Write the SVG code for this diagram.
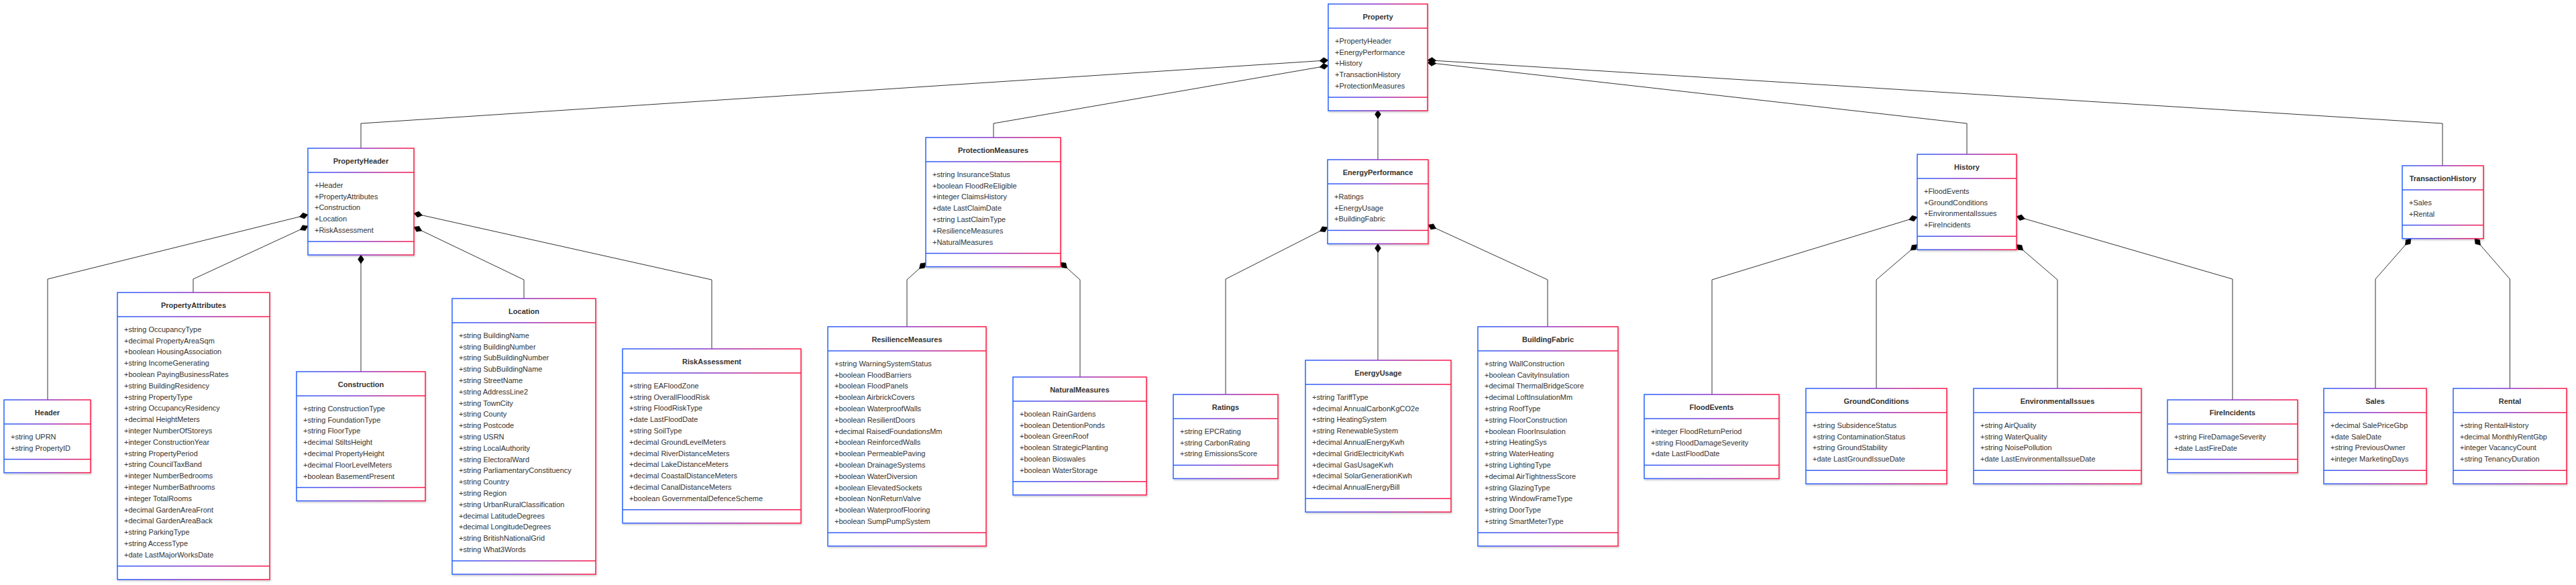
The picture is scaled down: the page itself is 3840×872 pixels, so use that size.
<svg xmlns="http://www.w3.org/2000/svg" width="3840" height="872" viewBox="0 0 3840 872">
<style>
.box{fill:#fff;stroke:url(#g);stroke-width:1.5;filter:url(#sh)}
.sep{fill:url(#g)}
.t{font-family:"Liberation Sans",Arial,sans-serif;font-size:11px;font-weight:bold;fill:#333;text-anchor:middle}
.a{font-family:"Liberation Sans",Arial,sans-serif;font-size:11px;fill:#333}
.c path{fill:none;stroke:#333;stroke-width:1}
</style>
<defs>
<linearGradient id="g" x1="0" y1="0" x2="1" y2="0">
<stop offset="0" stop-color="#2962ff"/>
<stop offset="0.5" stop-color="#8e35c8"/>
<stop offset="1" stop-color="#ff1744"/>
</linearGradient>
<filter id="sh" x="-10%" y="-10%" width="120%" height="120%">
<feDropShadow dx="1" dy="2" stdDeviation="1.2" flood-color="#000" flood-opacity="0.18"/>
</filter>
<marker id="dia" viewBox="0 -5 14 10" refX="13" refY="0" markerWidth="14" markerHeight="10" markerUnits="userSpaceOnUse" orient="auto" overflow="visible">
<path d="M0,0 L6.5,-4.5 L13,0 L6.5,4.5 Z" fill="#000" stroke="#000" stroke-width="0.5"/>
</marker>
</defs>
<rect width="3840" height="872" fill="#fff"/>
<g id="connectors" class="c">
<path marker-end="url(#dia)" d="M538,221 L538,184 L1980,89.8"/>
<path marker-end="url(#dia)" d="M1481,205 L1481,184 L1980,97.8"/>
<path marker-end="url(#dia)" d="M2054,238 L2054,164"/>
<path marker-end="url(#dia)" d="M2932,230 L2932,184 L2128,93.3"/>
<path marker-end="url(#dia)" d="M3641,247 L3641,184 L2128,89.6"/>
<path marker-end="url(#dia)" d="M71,596 L71,416 L459,320"/>
<path marker-end="url(#dia)" d="M288,436 L288,416 L459,337"/>
<path marker-end="url(#dia)" d="M538,554 L538,380"/>
<path marker-end="url(#dia)" d="M781,445 L781,417 L617,338.4"/>
<path marker-end="url(#dia)" d="M1061,520 L1061,417 L617,318.1"/>
<path marker-end="url(#dia)" d="M1352,487 L1352,417 L1380,391.7"/>
<path marker-end="url(#dia)" d="M1610,562 L1610,417 L1581,391.1"/>
<path marker-end="url(#dia)" d="M1827,588 L1827,416 L1979,338.8"/>
<path marker-end="url(#dia)" d="M2054,537 L2054,363.4"/>
<path marker-end="url(#dia)" d="M2307,487 L2307,417 L2129,335.2"/>
<path marker-end="url(#dia)" d="M2552,588 L2552,417 L2858,323.6"/>
<path marker-end="url(#dia)" d="M2797,579 L2797,417 L2858,364.6"/>
<path marker-end="url(#dia)" d="M3067,579 L3067,417 L3006,364.6"/>
<path marker-end="url(#dia)" d="M3328,596 L3328,416 L3006,322.5"/>
<path marker-end="url(#dia)" d="M3541,579 L3541,416 L3594,355.6"/>
<path marker-end="url(#dia)" d="M3741.5,579 L3741.5,416 L3689,355.6"/>
</g>

<g id="Property" transform="translate(1980,6)">
<rect class="box" width="148" height="159"/>
<rect class="sep" y="35.25" width="148" height="1.5"/>
<rect class="sep" y="138.25" width="148" height="1.5"/>
<text class="t" x="74" y="22.5">Property</text>
<text class="a"><tspan x="10" y="58.8">+PropertyHeader</tspan><tspan x="10" dy="16.8">+EnergyPerformance</tspan><tspan x="10" dy="16.8">+History</tspan><tspan x="10" dy="16.8">+TransactionHistory</tspan><tspan x="10" dy="16.8">+ProtectionMeasures</tspan></text>
</g>

<g id="PropertyHeader" transform="translate(459,221)">
<rect class="box" width="158" height="159"/>
<rect class="sep" y="35.25" width="158" height="1.5"/>
<rect class="sep" y="138.25" width="158" height="1.5"/>
<text class="t" x="79" y="22.5">PropertyHeader</text>
<text class="a"><tspan x="10" y="58.8">+Header</tspan><tspan x="10" dy="16.8">+PropertyAttributes</tspan><tspan x="10" dy="16.8">+Construction</tspan><tspan x="10" dy="16.8">+Location</tspan><tspan x="10" dy="16.8">+RiskAssessment</tspan></text>
</g>

<g id="ProtectionMeasures" transform="translate(1380,205)">
<rect class="box" width="201" height="192.6"/>
<rect class="sep" y="35.25" width="201" height="1.5"/>
<rect class="sep" y="171.85" width="201" height="1.5"/>
<text class="t" x="100.5" y="22.5">ProtectionMeasures</text>
<text class="a"><tspan x="10" y="58.8">+string InsuranceStatus</tspan><tspan x="10" dy="16.8">+boolean FloodReEligible</tspan><tspan x="10" dy="16.8">+integer ClaimsHistory</tspan><tspan x="10" dy="16.8">+date LastClaimDate</tspan><tspan x="10" dy="16.8">+string LastClaimType</tspan><tspan x="10" dy="16.8">+ResilienceMeasures</tspan><tspan x="10" dy="16.8">+NaturalMeasures</tspan></text>
</g>

<g id="EnergyPerformance" transform="translate(1979,238)">
<rect class="box" width="150" height="125.4"/>
<rect class="sep" y="35.25" width="150" height="1.5"/>
<rect class="sep" y="104.65" width="150" height="1.5"/>
<text class="t" x="75" y="22.5">EnergyPerformance</text>
<text class="a"><tspan x="10" y="58.8">+Ratings</tspan><tspan x="10" dy="16.8">+EnergyUsage</tspan><tspan x="10" dy="16.8">+BuildingFabric</tspan></text>
</g>

<g id="History" transform="translate(2858,230)">
<rect class="box" width="148" height="142.2"/>
<rect class="sep" y="35.25" width="148" height="1.5"/>
<rect class="sep" y="121.45" width="148" height="1.5"/>
<text class="t" x="74" y="22.5">History</text>
<text class="a"><tspan x="10" y="58.8">+FloodEvents</tspan><tspan x="10" dy="16.8">+GroundConditions</tspan><tspan x="10" dy="16.8">+EnvironmentalIssues</tspan><tspan x="10" dy="16.8">+FireIncidents</tspan></text>
</g>

<g id="TransactionHistory" transform="translate(3581,247)">
<rect class="box" width="121" height="108.6"/>
<rect class="sep" y="35.25" width="121" height="1.5"/>
<rect class="sep" y="87.85" width="121" height="1.5"/>
<text class="t" x="60.5" y="22.5">TransactionHistory</text>
<text class="a"><tspan x="10" y="58.8">+Sales</tspan><tspan x="10" dy="16.8">+Rental</tspan></text>
</g>

<g id="Header" transform="translate(6,596)">
<rect class="box" width="129" height="108.6"/>
<rect class="sep" y="35.25" width="129" height="1.5"/>
<rect class="sep" y="87.85" width="129" height="1.5"/>
<text class="t" x="64.5" y="22.5">Header</text>
<text class="a"><tspan x="10" y="58.8">+string UPRN</tspan><tspan x="10" dy="16.8">+string PropertyID</tspan></text>
</g>

<g id="PropertyAttributes" transform="translate(175,436)">
<rect class="box" width="227" height="427.8"/>
<rect class="sep" y="35.25" width="227" height="1.5"/>
<rect class="sep" y="407.05" width="227" height="1.5"/>
<text class="t" x="113.5" y="22.5">PropertyAttributes</text>
<text class="a"><tspan x="10" y="58.8">+string OccupancyType</tspan><tspan x="10" dy="16.8">+decimal PropertyAreaSqm</tspan><tspan x="10" dy="16.8">+boolean HousingAssociation</tspan><tspan x="10" dy="16.8">+string IncomeGenerating</tspan><tspan x="10" dy="16.8">+boolean PayingBusinessRates</tspan><tspan x="10" dy="16.8">+string BuildingResidency</tspan><tspan x="10" dy="16.8">+string PropertyType</tspan><tspan x="10" dy="16.8">+string OccupancyResidency</tspan><tspan x="10" dy="16.8">+decimal HeightMeters</tspan><tspan x="10" dy="16.8">+integer NumberOfStoreys</tspan><tspan x="10" dy="16.8">+integer ConstructionYear</tspan><tspan x="10" dy="16.8">+string PropertyPeriod</tspan><tspan x="10" dy="16.8">+string CouncilTaxBand</tspan><tspan x="10" dy="16.8">+integer NumberBedrooms</tspan><tspan x="10" dy="16.8">+integer NumberBathrooms</tspan><tspan x="10" dy="16.8">+integer TotalRooms</tspan><tspan x="10" dy="16.8">+decimal GardenAreaFront</tspan><tspan x="10" dy="16.8">+decimal GardenAreaBack</tspan><tspan x="10" dy="16.8">+string ParkingType</tspan><tspan x="10" dy="16.8">+string AccessType</tspan><tspan x="10" dy="16.8">+date LastMajorWorksDate</tspan></text>
</g>

<g id="Construction" transform="translate(442,554)">
<rect class="box" width="192" height="192.6"/>
<rect class="sep" y="35.25" width="192" height="1.5"/>
<rect class="sep" y="171.85" width="192" height="1.5"/>
<text class="t" x="96" y="22.5">Construction</text>
<text class="a"><tspan x="10" y="58.8">+string ConstructionType</tspan><tspan x="10" dy="16.8">+string FoundationType</tspan><tspan x="10" dy="16.8">+string FloorType</tspan><tspan x="10" dy="16.8">+decimal StiltsHeight</tspan><tspan x="10" dy="16.8">+decimal PropertyHeight</tspan><tspan x="10" dy="16.8">+decimal FloorLevelMeters</tspan><tspan x="10" dy="16.8">+boolean BasementPresent</tspan></text>
</g>

<g id="Location" transform="translate(674,445)">
<rect class="box" width="214" height="411"/>
<rect class="sep" y="35.25" width="214" height="1.5"/>
<rect class="sep" y="390.25" width="214" height="1.5"/>
<text class="t" x="107" y="22.5">Location</text>
<text class="a"><tspan x="10" y="58.8">+string BuildingName</tspan><tspan x="10" dy="16.8">+string BuildingNumber</tspan><tspan x="10" dy="16.8">+string SubBuildingNumber</tspan><tspan x="10" dy="16.8">+string SubBuildingName</tspan><tspan x="10" dy="16.8">+string StreetName</tspan><tspan x="10" dy="16.8">+string AddressLine2</tspan><tspan x="10" dy="16.8">+string TownCity</tspan><tspan x="10" dy="16.8">+string County</tspan><tspan x="10" dy="16.8">+string Postcode</tspan><tspan x="10" dy="16.8">+string USRN</tspan><tspan x="10" dy="16.8">+string LocalAuthority</tspan><tspan x="10" dy="16.8">+string ElectoralWard</tspan><tspan x="10" dy="16.8">+string ParliamentaryConstituency</tspan><tspan x="10" dy="16.8">+string Country</tspan><tspan x="10" dy="16.8">+string Region</tspan><tspan x="10" dy="16.8">+string UrbanRuralClassification</tspan><tspan x="10" dy="16.8">+decimal LatitudeDegrees</tspan><tspan x="10" dy="16.8">+decimal LongitudeDegrees</tspan><tspan x="10" dy="16.8">+string BritishNationalGrid</tspan><tspan x="10" dy="16.8">+string What3Words</tspan></text>
</g>

<g id="RiskAssessment" transform="translate(928,520)">
<rect class="box" width="266" height="259.8"/>
<rect class="sep" y="35.25" width="266" height="1.5"/>
<rect class="sep" y="239.05" width="266" height="1.5"/>
<text class="t" x="133" y="22.5">RiskAssessment</text>
<text class="a"><tspan x="10" y="58.8">+string EAFloodZone</tspan><tspan x="10" dy="16.8">+string OverallFloodRisk</tspan><tspan x="10" dy="16.8">+string FloodRiskType</tspan><tspan x="10" dy="16.8">+date LastFloodDate</tspan><tspan x="10" dy="16.8">+string SoilType</tspan><tspan x="10" dy="16.8">+decimal GroundLevelMeters</tspan><tspan x="10" dy="16.8">+decimal RiverDistanceMeters</tspan><tspan x="10" dy="16.8">+decimal LakeDistanceMeters</tspan><tspan x="10" dy="16.8">+decimal CoastalDistanceMeters</tspan><tspan x="10" dy="16.8">+decimal CanalDistanceMeters</tspan><tspan x="10" dy="16.8">+boolean GovernmentalDefenceScheme</tspan></text>
</g>

<g id="ResilienceMeasures" transform="translate(1234,487)">
<rect class="box" width="236" height="327"/>
<rect class="sep" y="35.25" width="236" height="1.5"/>
<rect class="sep" y="306.25" width="236" height="1.5"/>
<text class="t" x="118" y="22.5">ResilienceMeasures</text>
<text class="a"><tspan x="10" y="58.8">+string WarningSystemStatus</tspan><tspan x="10" dy="16.8">+boolean FloodBarriers</tspan><tspan x="10" dy="16.8">+boolean FloodPanels</tspan><tspan x="10" dy="16.8">+boolean AirbrickCovers</tspan><tspan x="10" dy="16.8">+boolean WaterproofWalls</tspan><tspan x="10" dy="16.8">+boolean ResilientDoors</tspan><tspan x="10" dy="16.8">+decimal RaisedFoundationsMm</tspan><tspan x="10" dy="16.8">+boolean ReinforcedWalls</tspan><tspan x="10" dy="16.8">+boolean PermeablePaving</tspan><tspan x="10" dy="16.8">+boolean DrainageSystems</tspan><tspan x="10" dy="16.8">+boolean WaterDiversion</tspan><tspan x="10" dy="16.8">+boolean ElevatedSockets</tspan><tspan x="10" dy="16.8">+boolean NonReturnValve</tspan><tspan x="10" dy="16.8">+boolean WaterproofFlooring</tspan><tspan x="10" dy="16.8">+boolean SumpPumpSystem</tspan></text>
</g>

<g id="NaturalMeasures" transform="translate(1510,562)">
<rect class="box" width="199" height="175.8"/>
<rect class="sep" y="35.25" width="199" height="1.5"/>
<rect class="sep" y="155.05" width="199" height="1.5"/>
<text class="t" x="99.5" y="22.5">NaturalMeasures</text>
<text class="a"><tspan x="10" y="58.8">+boolean RainGardens</tspan><tspan x="10" dy="16.8">+boolean DetentionPonds</tspan><tspan x="10" dy="16.8">+boolean GreenRoof</tspan><tspan x="10" dy="16.8">+boolean StrategicPlanting</tspan><tspan x="10" dy="16.8">+boolean Bioswales</tspan><tspan x="10" dy="16.8">+boolean WaterStorage</tspan></text>
</g>

<g id="Ratings" transform="translate(1749,588)">
<rect class="box" width="156" height="125.4"/>
<rect class="sep" y="35.25" width="156" height="1.5"/>
<rect class="sep" y="104.65" width="156" height="1.5"/>
<text class="t" x="78" y="22.5">Ratings</text>
<text class="a"><tspan x="10" y="58.8">+string EPCRating</tspan><tspan x="10" dy="16.8">+string CarbonRating</tspan><tspan x="10" dy="16.8">+string EmissionsScore</tspan></text>
</g>

<g id="EnergyUsage" transform="translate(1946,537)">
<rect class="box" width="217" height="226.2"/>
<rect class="sep" y="35.25" width="217" height="1.5"/>
<rect class="sep" y="205.45" width="217" height="1.5"/>
<text class="t" x="108.5" y="22.5">EnergyUsage</text>
<text class="a"><tspan x="10" y="58.8">+string TariffType</tspan><tspan x="10" dy="16.8">+decimal AnnualCarbonKgCO2e</tspan><tspan x="10" dy="16.8">+string HeatingSystem</tspan><tspan x="10" dy="16.8">+string RenewableSystem</tspan><tspan x="10" dy="16.8">+decimal AnnualEnergyKwh</tspan><tspan x="10" dy="16.8">+decimal GridElectricityKwh</tspan><tspan x="10" dy="16.8">+decimal GasUsageKwh</tspan><tspan x="10" dy="16.8">+decimal SolarGenerationKwh</tspan><tspan x="10" dy="16.8">+decimal AnnualEnergyBill</tspan></text>
</g>

<g id="BuildingFabric" transform="translate(2203,487)">
<rect class="box" width="209" height="327"/>
<rect class="sep" y="35.25" width="209" height="1.5"/>
<rect class="sep" y="306.25" width="209" height="1.5"/>
<text class="t" x="104.5" y="22.5">BuildingFabric</text>
<text class="a"><tspan x="10" y="58.8">+string WallConstruction</tspan><tspan x="10" dy="16.8">+boolean CavityInsulation</tspan><tspan x="10" dy="16.8">+decimal ThermalBridgeScore</tspan><tspan x="10" dy="16.8">+decimal LoftInsulationMm</tspan><tspan x="10" dy="16.8">+string RoofType</tspan><tspan x="10" dy="16.8">+string FloorConstruction</tspan><tspan x="10" dy="16.8">+boolean FloorInsulation</tspan><tspan x="10" dy="16.8">+string HeatingSys</tspan><tspan x="10" dy="16.8">+string WaterHeating</tspan><tspan x="10" dy="16.8">+string LightingType</tspan><tspan x="10" dy="16.8">+decimal AirTightnessScore</tspan><tspan x="10" dy="16.8">+string GlazingType</tspan><tspan x="10" dy="16.8">+string WindowFrameType</tspan><tspan x="10" dy="16.8">+string DoorType</tspan><tspan x="10" dy="16.8">+string SmartMeterType</tspan></text>
</g>

<g id="FloodEvents" transform="translate(2451,588)">
<rect class="box" width="201" height="125.4"/>
<rect class="sep" y="35.25" width="201" height="1.5"/>
<rect class="sep" y="104.65" width="201" height="1.5"/>
<text class="t" x="100.5" y="22.5">FloodEvents</text>
<text class="a"><tspan x="10" y="58.8">+integer FloodReturnPeriod</tspan><tspan x="10" dy="16.8">+string FloodDamageSeverity</tspan><tspan x="10" dy="16.8">+date LastFloodDate</tspan></text>
</g>

<g id="GroundConditions" transform="translate(2692,579)">
<rect class="box" width="210" height="142.2"/>
<rect class="sep" y="35.25" width="210" height="1.5"/>
<rect class="sep" y="121.45" width="210" height="1.5"/>
<text class="t" x="105" y="22.5">GroundConditions</text>
<text class="a"><tspan x="10" y="58.8">+string SubsidenceStatus</tspan><tspan x="10" dy="16.8">+string ContaminationStatus</tspan><tspan x="10" dy="16.8">+string GroundStability</tspan><tspan x="10" dy="16.8">+date LastGroundIssueDate</tspan></text>
</g>

<g id="EnvironmentalIssues" transform="translate(2942,579)">
<rect class="box" width="250" height="142.2"/>
<rect class="sep" y="35.25" width="250" height="1.5"/>
<rect class="sep" y="121.45" width="250" height="1.5"/>
<text class="t" x="125" y="22.5">EnvironmentalIssues</text>
<text class="a"><tspan x="10" y="58.8">+string AirQuality</tspan><tspan x="10" dy="16.8">+string WaterQuality</tspan><tspan x="10" dy="16.8">+string NoisePollution</tspan><tspan x="10" dy="16.8">+date LastEnvironmentalIssueDate</tspan></text>
</g>

<g id="FireIncidents" transform="translate(3231,596)">
<rect class="box" width="194" height="108.6"/>
<rect class="sep" y="35.25" width="194" height="1.5"/>
<rect class="sep" y="87.85" width="194" height="1.5"/>
<text class="t" x="97" y="22.5">FireIncidents</text>
<text class="a"><tspan x="10" y="58.8">+string FireDamageSeverity</tspan><tspan x="10" dy="16.8">+date LastFireDate</tspan></text>
</g>

<g id="Sales" transform="translate(3464,579)">
<rect class="box" width="153" height="142.2"/>
<rect class="sep" y="35.25" width="153" height="1.5"/>
<rect class="sep" y="121.45" width="153" height="1.5"/>
<text class="t" x="76.5" y="22.5">Sales</text>
<text class="a"><tspan x="10" y="58.8">+decimal SalePriceGbp</tspan><tspan x="10" dy="16.8">+date SaleDate</tspan><tspan x="10" dy="16.8">+string PreviousOwner</tspan><tspan x="10" dy="16.8">+integer MarketingDays</tspan></text>
</g>

<g id="Rental" transform="translate(3657,579)">
<rect class="box" width="169" height="142.2"/>
<rect class="sep" y="35.25" width="169" height="1.5"/>
<rect class="sep" y="121.45" width="169" height="1.5"/>
<text class="t" x="84.5" y="22.5">Rental</text>
<text class="a"><tspan x="10" y="58.8">+string RentalHistory</tspan><tspan x="10" dy="16.8">+decimal MonthlyRentGbp</tspan><tspan x="10" dy="16.8">+integer VacancyCount</tspan><tspan x="10" dy="16.8">+string TenancyDuration</tspan></text>
</g>
</svg>
